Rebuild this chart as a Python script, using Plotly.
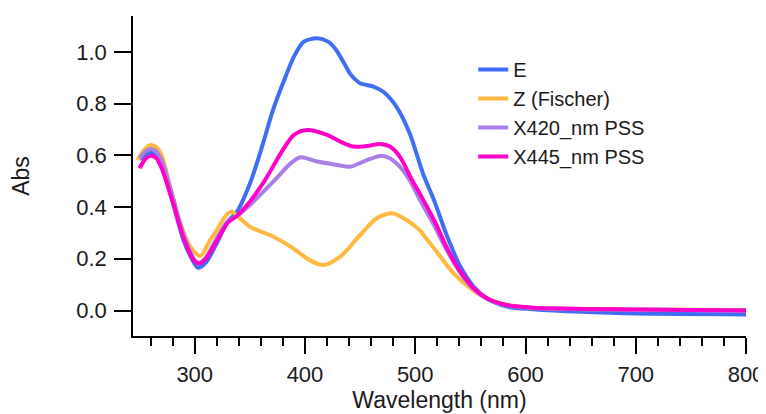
import plotly.graph_objects as go

# ---- data ----
wl_E = [250, 255, 260, 265, 270, 280, 290, 300, 303, 310, 320, 330, 338, 350, 362, 371, 380, 390,
        399, 411, 421, 427, 432, 437, 441, 446, 450, 456, 462, 471, 483, 495, 507, 517, 529, 541,
        553, 565, 583, 607, 650, 700, 800]
abs_E = [0.585, 0.60, 0.61, 0.60, 0.56, 0.42, 0.27, 0.18, 0.165, 0.185, 0.26, 0.345, 0.38, 0.49,
         0.647, 0.776, 0.879, 0.982, 1.04, 1.053, 1.04, 1.015, 0.982, 0.945, 0.915, 0.892, 0.879,
         0.872, 0.866, 0.846, 0.788, 0.685, 0.53, 0.427, 0.286, 0.169, 0.092, 0.047, 0.015, 0.005,
         -0.005, -0.012, -0.015]

wl_Z = [248, 255, 260, 265, 270, 278, 287, 296, 305, 314, 320, 327, 333, 340, 350, 360, 368, 387,
        405, 417, 432, 450, 465, 479, 492, 504, 511, 523, 532, 541, 559, 577, 595, 620, 700, 800]
abs_Z = [0.582, 0.625, 0.64, 0.632, 0.60, 0.473, 0.337, 0.247, 0.211, 0.273, 0.311, 0.36, 0.383,
         0.36, 0.324, 0.305, 0.292, 0.247, 0.193, 0.176, 0.208, 0.292, 0.357, 0.376, 0.35, 0.311,
         0.273, 0.208, 0.157, 0.118, 0.06, 0.028, 0.015, 0.008, 0.004, 0.002]

wl_X420 = [250, 255, 260, 265, 270, 280, 290, 300, 304, 310, 320, 330, 338, 350, 360, 374, 387,
           396, 411, 429, 441, 453, 468, 477, 486, 494, 504, 517, 529, 541, 553, 565, 583, 607,
           700, 800]
abs_X420 = [0.59, 0.615, 0.625, 0.615, 0.58, 0.44, 0.29, 0.195, 0.185, 0.205, 0.28, 0.345, 0.365,
            0.408, 0.45, 0.511, 0.569, 0.593, 0.576, 0.563, 0.556, 0.576, 0.598, 0.589, 0.556,
            0.511, 0.43, 0.33, 0.23, 0.145, 0.083, 0.045, 0.02, 0.01, 0.004, 0.0]

wl_X445 = [250, 255, 260, 265, 270, 280, 290, 300, 304, 310, 320, 330, 338, 350, 360, 366, 378,
           390, 402, 420, 432, 444, 456, 468, 477, 486, 497, 504, 517, 529, 541, 553, 565, 583,
           607, 700, 800]
abs_X445 = [0.55, 0.585, 0.598, 0.59, 0.55, 0.42, 0.28, 0.19, 0.182, 0.20, 0.27, 0.34, 0.365,
            0.421, 0.48, 0.52, 0.608, 0.679, 0.698, 0.679, 0.653, 0.634, 0.636, 0.644, 0.634,
            0.595, 0.505, 0.453, 0.35, 0.24, 0.15, 0.086, 0.047, 0.021, 0.011, 0.004, 0.0]

names = ["E", "Z (Fischer)", "X420_nm PSS", "X445_nm PSS"]
colors = ["#3f6ef5", "#ffb93f", "#a97ee6", "#ff00c8"]

fig = go.Figure()
for name, x, y, c in zip(names, [wl_E, wl_Z, wl_X420, wl_X445],
                         [abs_E, abs_Z, abs_X420, abs_X445], colors):
    fig.add_trace(go.Scatter(x=x, y=y, mode="lines", name=name,
                             line=dict(color=c, width=4, shape="spline", smoothing=0.8)))

font = "Liberation Sans, Arial, sans-serif"
fig.update_layout(
    width=766, height=414,
    margin=dict(l=125, r=28, t=8, b=86),
    paper_bgcolor="white", plot_bgcolor="white",
    font=dict(family=font, size=22, color="#1a1a1a"),
    legend=dict(x=0.555, y=0.894, xanchor="left", yanchor="top",
                font=dict(size=20, color="#1a1a1a"), bgcolor="rgba(0,0,0,0)",
                tracegroupgap=0),
    xaxis=dict(range=[244, 800], showgrid=False, zeroline=False, showline=True,
               automargin=False,
               linecolor="black", linewidth=1.7, ticks="outside", ticklen=16, tickwidth=1.7,
               tickcolor="black", dtick=100, tick0=0,
               minor=dict(ticks="outside", ticklen=8, tickwidth=1.7, tickcolor="black",
                          dtick=20, tick0=0, showgrid=False),
               title=dict(text="Wavelength (nm)", standoff=6, font=dict(size=23)),
               ticklabelstandoff=2),
    yaxis=dict(range=[-0.0986, 1.139], showgrid=False, zeroline=False, showline=True,
               automargin=False,
               linecolor="black", linewidth=1.7, ticks="outside", ticklen=17, tickwidth=1.7,
               tickcolor="black", tickvals=[0, 0.2, 0.4, 0.6, 0.8, 1.0], tickformat=".1f",
               title=dict(text="Abs", standoff=40, font=dict(size=23)), ticklabelstandoff=3),
)

fig.write_html("out.html")
